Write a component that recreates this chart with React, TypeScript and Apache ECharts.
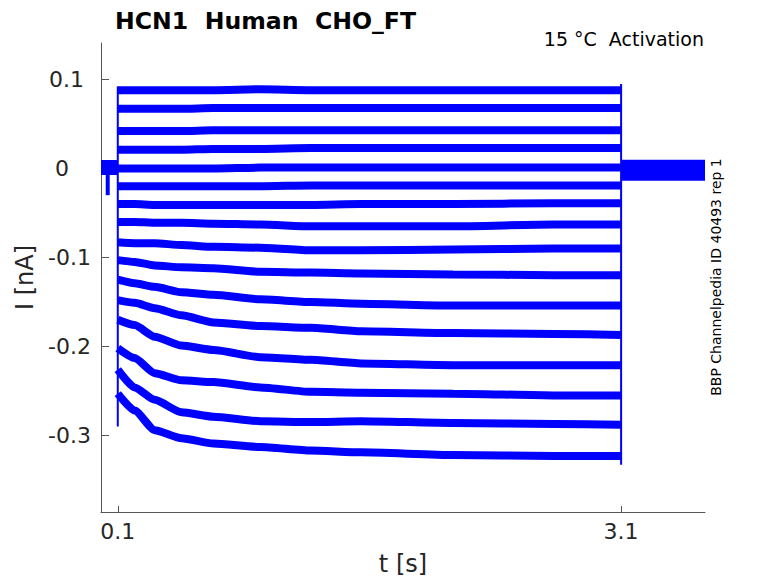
import React, { useEffect, useRef } from "react";
import * as echarts from "echarts";

// Time points (s) at which each sweep's mean current was read during the step
const stepTimes = [0.1, 0.2, 0.32, 0.48, 0.67, 0.95, 1.25, 1.55, 2.1, 2.7, 3.1];

// Mean current (nA) of each sweep during the test pulse
const sweep01 = [0.088, 0.088, 0.088, 0.088, 0.088, 0.089, 0.088, 0.088, 0.088, 0.088, 0.088];
const sweep02 = [0.067, 0.067, 0.067, 0.067, 0.068, 0.068, 0.068, 0.068, 0.068, 0.068, 0.068];
const sweep03 = [0.042, 0.042, 0.042, 0.042, 0.043, 0.043, 0.043, 0.043, 0.043, 0.043, 0.043];
const sweep04 = [0.021, 0.021, 0.021, 0.021, 0.022, 0.022, 0.023, 0.023, 0.023, 0.023, 0.023];
const sweep05 = [0.0, 0.0, 0.0, 0.0, 0.0, 0.001, 0.001, 0.001, 0.001, 0.001, 0.001];
const sweep06 = [-0.02, -0.02, -0.02, -0.02, -0.02, -0.02, -0.019, -0.019, -0.019, -0.019, -0.019];
const sweep07 = [-0.04, -0.04, -0.041, -0.041, -0.041, -0.041, -0.041, -0.04, -0.04, -0.039, -0.039];
const sweep08 = [-0.06, -0.06, -0.061, -0.061, -0.062, -0.063, -0.065, -0.065, -0.065, -0.063, -0.063];
const sweep09 = [-0.083, -0.084, -0.084, -0.086, -0.088, -0.089, -0.092, -0.092, -0.091, -0.09, -0.09];
const sweep10 = [-0.103, -0.105, -0.109, -0.111, -0.112, -0.116, -0.117, -0.118, -0.119, -0.12, -0.12];
const sweep11 = [-0.125, -0.129, -0.133, -0.139, -0.142, -0.147, -0.15, -0.152, -0.154, -0.154, -0.154];
const sweep12 = [-0.148, -0.151, -0.157, -0.165, -0.173, -0.177, -0.179, -0.183, -0.185, -0.186, -0.187];
const sweep13 = [-0.17, -0.176, -0.189, -0.199, -0.204, -0.212, -0.215, -0.219, -0.221, -0.221, -0.221];
const sweep14 = [-0.202, -0.213, -0.23, -0.238, -0.24, -0.246, -0.251, -0.252, -0.253, -0.255, -0.255];
const sweep15 = [-0.226, -0.246, -0.26, -0.274, -0.279, -0.284, -0.285, -0.284, -0.286, -0.287, -0.288];
const sweep16 = [-0.253, -0.272, -0.294, -0.303, -0.309, -0.313, -0.317, -0.319, -0.322, -0.323, -0.323];

const sweeps = [
  sweep01, sweep02, sweep03, sweep04, sweep05, sweep06, sweep07, sweep08,
  sweep09, sweep10, sweep11, sweep12, sweep13, sweep14, sweep15, sweep16,
];

// Holding current before and after the pulse (t, nA)
const preBaseline = [[0, 0.001], [0.1, 0.001]];
const postBaseline = [[3.1, -0.002], [3.6, -0.002]];
// Small artefact before the pulse
const preArtefact = [[0.04, 0.0], [0.04, -0.03]];
// Capacitive transients at pulse onset and offset
const onsetEdge = [[0.1, 0.092], [0.1, -0.29]];
const offsetEdge = [[3.1, 0.095], [3.1, -0.333]];

const xTicks = [0.1, 3.1];
const yTicks = [-0.3, -0.2, -0.1, 0, 0.1];
const xRange = [0, 3.6];
const yRange = [-0.386, 0.141];

const FONT = "DejaVu Sans";
const BLUE = "#0000ff";

export default function App() {
  const ref = useRef<HTMLDivElement>(null);
  useEffect(() => {
    const chart = echarts.init(ref.current!, null, { renderer: "svg" });
    const traceSeries = sweeps.map((vals, i) => ({
      type: "line",
      name: `sweep ${i + 1}`,
      data: stepTimes.map((t, j) => [t, vals[j]]),
      showSymbol: false,
      symbol: "none",
      smooth: 0.2,
      smoothMonotone: "x",
      lineStyle: { color: BLUE, width: 8 },
      silent: true,
      z: 2,
    }));
    const thin = (data: number[][], width: number) => ({
      type: "line",
      data,
      showSymbol: false,
      symbol: "none",
      lineStyle: { color: BLUE, width },
      silent: true,
      z: 3,
    });
    const labelStyle = { fontFamily: FONT, fontSize: 22, color: "#262626" };
    chart.setOption({
      animation: false,
      backgroundColor: "#ffffff",
      grid: {
        left: 101,
        top: 43,
        width: 604,
        height: 469,
        containLabel: false,
        outerBoundsMode: "none",
      },
      title: {
        text: "HCN1  Human  CHO_FT",
        left: 110,
        top: 4,
        textStyle: { fontFamily: FONT, fontSize: 23.6, fontWeight: "bold", color: "#000000" },
      },
      graphic: [
        {
          type: "text",
          x: 704,
          y: 29,
          style: {
            text: "15 °C  Activation",
            fontFamily: FONT,
            fontSize: 19,
            fill: "#000000",
            textAlign: "right",
            textVerticalAlign: "top",
          },
        },
        {
          type: "text",
          x: 716,
          y: 277,
          rotation: Math.PI / 2,
          style: {
            text: "BBP Channelpedia ID 40493 rep 1",
            fontFamily: FONT,
            fontSize: 14,
            fill: "#000000",
            textAlign: "center",
            textVerticalAlign: "middle",
          },
        },
      ],
      xAxis: {
        type: "value",
        min: xRange[0],
        max: xRange[1],
        name: "t [s]",
        nameLocation: "middle",
        nameGap: 40,
        nameTextStyle: { fontFamily: FONT, fontSize: 24, color: "#262626" },
        axisLine: { show: true, onZero: false, lineStyle: { color: "#555555", width: 1 } },
        axisTick: { show: true, inside: true, length: 6, customValues: xTicks, lineStyle: { color: "#555555" } },
        axisLabel: {
          show: true,
          customValues: xTicks,
          margin: 8,
          ...labelStyle,
          formatter: (v: number) => String(v),
        },
        splitLine: { show: false },
      },
      yAxis: {
        type: "value",
        min: yRange[0],
        max: yRange[1],
        name: "I [nA]",
        nameLocation: "middle",
        nameGap: 62,
        nameTextStyle: { fontFamily: FONT, fontSize: 24, color: "#262626" },
        axisLine: { show: true, onZero: false, lineStyle: { color: "#555555", width: 1 } },
        axisTick: { show: true, inside: true, length: 8, customValues: yTicks, lineStyle: { color: "#555555" } },
        axisLabel: {
          show: true,
          customValues: yTicks,
          margin: 10,
          ...labelStyle,
          formatter: (v: number) =>
            v === 0 ? "{z|0}" : v > 0 ? `{p|${v}}` : `{n|${v}}`,
          rich: {
            z: { ...labelStyle, padding: [0, 22, 0, 0] },
            p: { ...labelStyle, padding: [0, 7, 0, 0] },
            n: { ...labelStyle },
          },
        },
        splitLine: { show: false },
      },
      series: [
        ...traceSeries,
        thin(preBaseline, 15),
        thin(postBaseline, 21),
        thin(preArtefact, 4),
        thin(onsetEdge, 2),
        thin(offsetEdge, 2),
      ],
    });
    return () => chart.dispose();
  }, []);
  return (
    <div
      ref={ref}
      style={{ position: "absolute", left: 0, top: 0, width: 778, height: 583 }}
    />
  );
}
